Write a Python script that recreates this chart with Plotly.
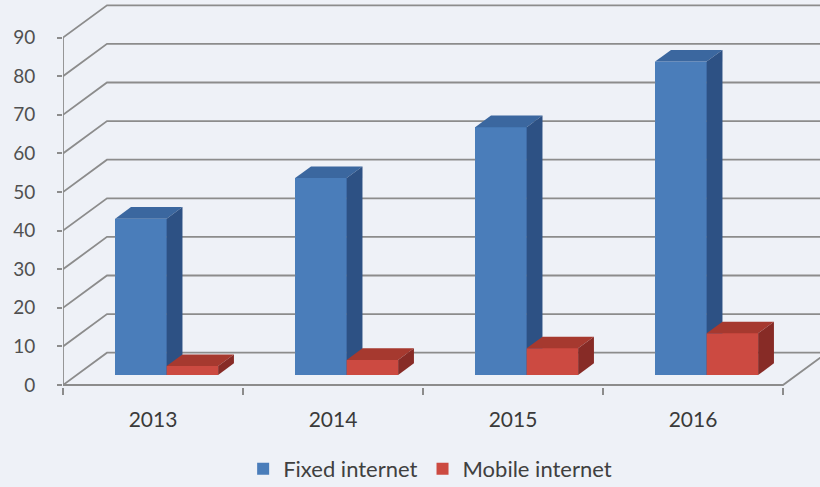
import plotly.graph_objects as go

# ---- data ----
years = ["2013", "2014", "2015", "2016"]
fixed_internet = [40.5, 51.0, 64.2, 81.2]
mobile_internet = [2.3, 3.9, 6.9, 10.8]
y_ticks = [0, 10, 20, 30, 40, 50, 60, 70, 80, 90]

# ---- pseudo-3D geometry (in axis units) ----
DX, DY = 0.2444, 8.37        # full floor depth vector
F0, F1 = 0.31, 0.67          # bar depth slice
W = 0.286                    # bar width per series
X0, X1 = -0.5, len(years) - 0.5

BLUE = dict(front="#4A7DBA", top="#3B679F", side="#2D5184")
RED = dict(front="#CC4A41", top="#A6392F", side="#872B26")
GRID = "#8c8c8c"

fig = go.Figure()

# series bars (data carriers + legend); painted over below by the 3D faces
fig.add_trace(go.Bar(
    name="Fixed internet",
    x=[i + F0 * DX - W / 2 for i in range(len(years))],
    y=fixed_internet, base=F0 * DY, width=W,
    marker=dict(color=BLUE["front"], line=dict(width=0)), hoverinfo="skip"))
fig.add_trace(go.Bar(
    name="Mobile internet",
    x=[i + F0 * DX + W / 2 for i in range(len(years))],
    y=mobile_internet, base=F0 * DY, width=W,
    marker=dict(color=RED["front"], line=dict(width=0)), hoverinfo="skip"))

# back wall gridlines with diagonals + floor
gx, gy = [], []
for v in y_ticks:
    gx += [X0, X0 + DX, X1 + DX, None]
    gy += [v, v + DY, v + DY, None]
gx += [X0, X1, X1 + DX, None]
gy += [0, 0, DY, None]
gx += [X0, X0, None]
gy += [0, y_ticks[-1], None]
fig.add_trace(go.Scatter(x=gx, y=gy, mode="lines", line=dict(color=GRID, width=1.8),
                         hoverinfo="skip", showlegend=False))


def poly(xs, ys, color):
    fig.add_trace(go.Scatter(x=xs + [xs[0]], y=ys + [ys[0]], mode="lines", fill="toself",
                             fillcolor=color, line=dict(width=0),
                             hoverinfo="skip", showlegend=False))


def box(x_left, v, col):
    base = F0 * DY
    top = base + v
    ddx, ddy = (F1 - F0) * DX, (F1 - F0) * DY
    xr = x_left + W
    poly([x_left, xr, xr, x_left], [base, base, top, top], col["front"])
    poly([x_left, xr, xr + ddx, x_left + ddx], [top, top, top + ddy, top + ddy], col["top"])
    poly([xr, xr + ddx, xr + ddx, xr], [base, base + ddy, top + ddy, top], col["side"])


for i in range(len(years)):
    xb = i + F0 * DX - W
    box(xb, fixed_internet[i], BLUE)
    box(xb + W, mobile_internet[i], RED)

# category axis carrier
fig.add_trace(go.Scatter(x=years, y=[0] * len(years), xaxis="x2", mode="markers",
                         marker=dict(opacity=0), hoverinfo="skip", showlegend=False))

XR = [X0, X0 + 757 / 180]
fig.update_layout(
    width=820, height=487,
    margin=dict(l=63, r=0, t=0, b=100, autoexpand=False),
    paper_bgcolor="#EEF1F7", plot_bgcolor="rgba(0,0,0,0)",
    barmode="overlay", bargap=0,
    font=dict(family="Lato", color="#404040"),
    xaxis=dict(range=XR, visible=False, fixedrange=True, automargin=False),
    xaxis2=dict(type="category", categoryorder="array", categoryarray=years,
                range=XR, overlaying="x", anchor="y", side="bottom", automargin=False,
                tickson="boundaries", ticks="outside", ticklen=7, tickwidth=1.5,
                tickcolor=GRID, showgrid=False, showline=False, zeroline=False,
                tickfont=dict(size=21, color="#3a3a3a"), ticklabelstandoff=18),
    yaxis=dict(range=[-2 / 3.86, 385 / 3.86], tickvals=y_ticks, ticks="outside",
               ticklen=5, tickwidth=1.5, tickcolor=GRID, showgrid=False,
               zeroline=False, showline=False, automargin=False,
               tickfont=dict(size=19, color="#505050"), ticklabelstandoff=18),
    legend=dict(orientation="h", x=0.485, xanchor="center", y=-0.212, yanchor="middle",
                font=dict(size=22, color="#404040"), bgcolor="rgba(0,0,0,0)",
                traceorder="normal", itemwidth=30),
)

fig.write_html("out.html", config={"displayModeBar": False},
               post_script="document.body.style.margin='0';")
